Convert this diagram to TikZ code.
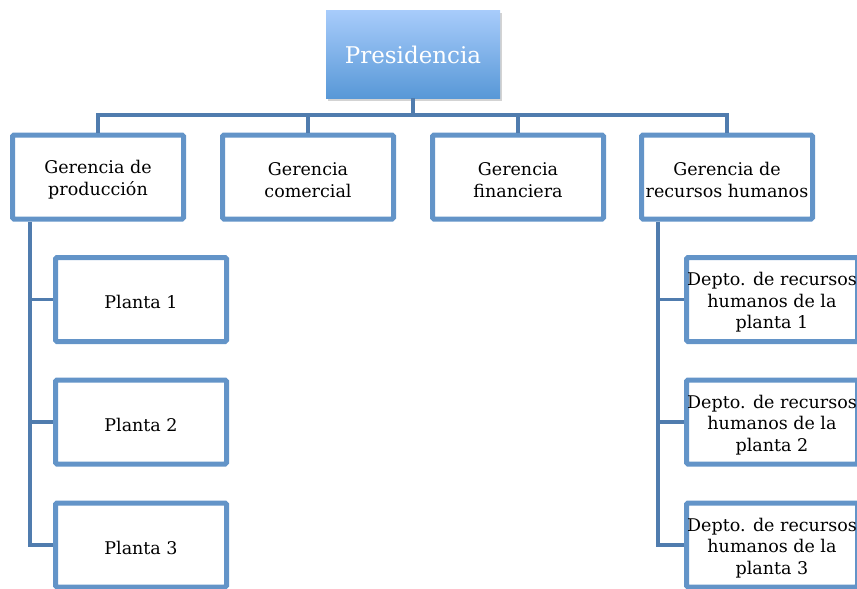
\documentclass[tikz,border=0pt]{standalone}
\usepackage{fontspec}
\setmainfont{DejaVu Serif}
\usetikzlibrary{shadows}
\definecolor{boxblue}{RGB}{99,148,200}
\definecolor{linkblue}{RGB}{80,124,174}
\definecolor{gradtop}{RGB}{168,204,251}
\definecolor{gradbot}{RGB}{88,152,215}
\newcommand\tp{\rule{0pt}{19pt}}
\tikzset{
  unitbox/.style={draw=boxblue, line width=5pt, rounded corners=1.5pt, fill=white,
    minimum width=171pt, minimum height=84pt, align=center, inner sep=0pt,
    font=\fontsize{17.5}{21.5}\selectfont, text=black},
  presbox/.style={top color=gradtop, bottom color=gradbot, draw=none,
    minimum width=174pt, minimum height=88pt, align=center,
    font=\fontsize{23}{27}\selectfont, text=white,
    drop shadow={opacity=0.35, shadow xshift=1.5pt, shadow yshift=-2.5pt}},
  link/.style={draw=linkblue, line width=3.3pt}
}
\begin{document}
\begin{tikzpicture}[x=1pt,y=-1pt]
\useasboundingbox (0,0) rectangle (857,589);
\node[presbox] (pres) at (413,54) {\tp Presidencia};
\node[unitbox] (g1) at (98,177) {\tp Gerencia de\\producción};
\node[unitbox] (g2) at (308,177) {\tp Gerencia\\comercial};
\node[unitbox] (g3) at (518,177) {\tp Gerencia\\financiera};
\node[unitbox] (g4) at (727,177) {\tp Gerencia de\\recursos humanos};
\node[unitbox] (p1) at (141,299.5) {\tp Planta 1};
\node[unitbox] (p2) at (141,422) {\tp Planta 2};
\node[unitbox] (p3) at (141,545) {\tp Planta 3};
\node[unitbox] (d1) at (772,299.5) {\tp Depto. de recursos\\humanos de la\\planta 1};
\node[unitbox] (d2) at (772,422) {\tp Depto. de recursos\\humanos de la\\planta 2};
\node[unitbox] (d3) at (772,545) {\tp Depto. de recursos\\humanos de la\\planta 3};
\coordinate (bus) at (0,115);
\coordinate (lx) at (30,0);
\coordinate (rx) at (658,0);
\draw[link] (pres.south) -- (pres.south |- bus);
\draw[link] (g1.north) -- (g1.north |- bus) -- (g4.north |- bus) -- (g4.north);
\draw[link] (g2.north) -- (g2.north |- bus);
\draw[link] (g3.north) -- (g3.north |- bus);
\draw[link] (lx |- g1.south) -- (lx |- p3.west) -- (p3.west);
\draw[link] (lx |- p1.west) -- (p1.west);
\draw[link] (lx |- p2.west) -- (p2.west);
\draw[link] (rx |- g4.south) -- (rx |- d3.west) -- (d3.west);
\draw[link] (rx |- d1.west) -- (d1.west);
\draw[link] (rx |- d2.west) -- (d2.west);
\end{tikzpicture}
\end{document}
